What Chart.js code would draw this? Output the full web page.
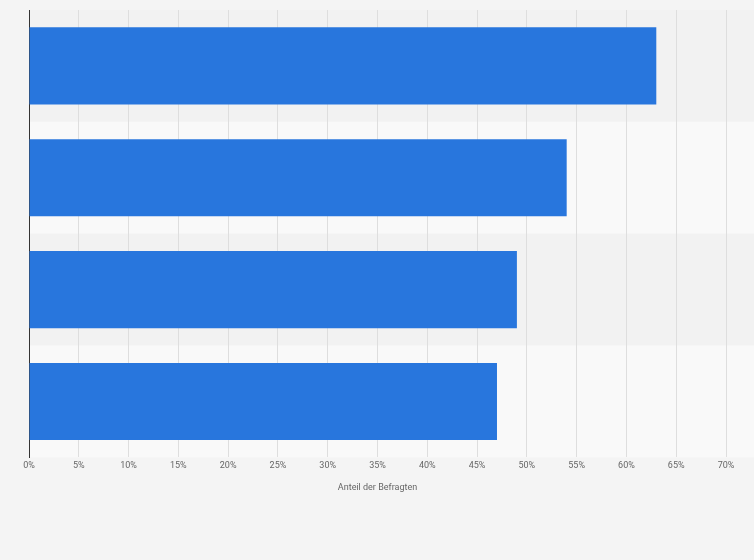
<!DOCTYPE html>
<html>
<head>
<meta charset="utf-8">
<script src="https://cdn.jsdelivr.net/npm/chart.js@4"></script>
<style>
  html, body { margin: 0; padding: 0; background: #f4f4f4; }
  #wrap { width: 754px; height: 560px; }
</style>
</head>
<body>
<div id="wrap"><canvas id="chart"></canvas></div>
<script>
const categories = ['', '', '', ''];
const shares = [63, 54, 49, 47];
const tickMax = 70;

// alternating row bands behind the bars
const bands = {
  id: 'bands',
  beforeDraw(chart) {
    let ctx = chart.ctx;
    let area = chart.chartArea;
    let y = chart.scales.y;
    ctx.save();
    categories.forEach((c, i) => {
      let top = y.getPixelForValue(i - 0.5);
      let bottom = y.getPixelForValue(i + 0.5);
      ctx.fillStyle = i % 2 === 0 ? '#f2f2f2' : '#f9f9f9';
      ctx.fillRect(area.left, top, area.right - area.left + 30, bottom - top);
    });
    ctx.restore();
  }
};

new Chart(document.getElementById('chart'), {
  type: 'bar',
  data: {
    labels: categories,
    datasets: [{
      data: shares,
      backgroundColor: '#2876dd',
      barPercentage: 0.69,
      categoryPercentage: 1
    }]
  },
  plugins: [bands],
  options: {
    indexAxis: 'y',
    responsive: true,
    maintainAspectRatio: false,
    animation: false,
    layout: { padding: { left: 29, right: 28, top: 10, bottom: 63 } },
    plugins: { legend: { display: false }, tooltip: { enabled: false } },
    scales: {
      x: {
        min: 0,
        max: tickMax,
        ticks: {
          stepSize: 5,
          color: '#666',
          font: { family: 'Roboto', size: 9 },
          callback: (v) => v + '%'
        },
        grid: { color: '#dedede', drawTicks: false },
        border: { display: false },
        title: {
          display: true,
          text: 'Anteil der Befragten',
          color: '#666',
          font: { family: 'Roboto', size: 9 },
          padding: { top: 8 }
        }
      },
      y: {
        ticks: { display: false },
        grid: { display: false, drawTicks: false },
        border: { display: true, color: '#333', width: 1 }
      }
    }
  }
});
</script>
</body>
</html>
